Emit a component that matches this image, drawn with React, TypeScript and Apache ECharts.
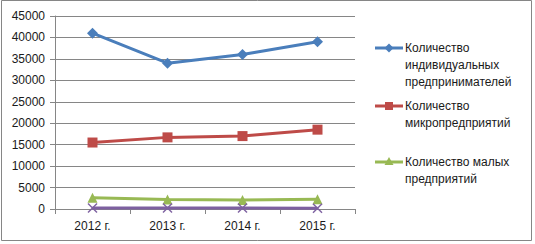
import React, { useEffect, useRef } from "react";
import * as echarts from "echarts";

const categories = ["2012 г.", "2013 г.", "2014 г.", "2015 г."];
const individualEntrepreneurs = [41000, 34000, 36000, 39000];
const microEnterprises = [15500, 16700, 17000, 18500];
const smallEnterprises = [2600, 2200, 2100, 2300];
const mediumEnterprises = [250, 230, 220, 200];
const yTicks = { min: 0, max: 45000, interval: 5000 };

const legendNames = [
  ["Количество", "индивидуальных", "предпринимателей"],
  ["Количество", "микропредприятий"],
  ["Количество малых", "предприятий"],
];

const BLUE = "#4A7EBB";
const RED = "#BE4B48";
const GREEN = "#98B954";
const PURPLE = "#7D60A0";
const FONT = "Liberation Sans";
const XSYM = "path://M0,1L1,0L5,4L9,0L10,1L6,5L10,9L9,10L5,6L1,10L0,9L4,5Z";

export default function App() {
  const ref = useRef<HTMLDivElement>(null);
  useEffect(() => {
    if (!ref.current) return;
    const chart = echarts.init(ref.current, undefined, { renderer: "svg" });

    const legendTop = [48, 106, 162];
    const legendColors = [BLUE, RED, GREEN];
    const legendSymbols = ["diamond", "rect", "triangle"];
    const graphics: any[] = [
      {
        type: "rect",
        shape: { x: 1.5, y: 0.5, width: 530, height: 240 },
        style: { fill: "none", stroke: "#868686", lineWidth: 1 },
        silent: true,
      },
    ];
    legendNames.forEach((lines, i) => {
      const y = legendTop[i];
      graphics.push({
        type: "line",
        shape: { x1: 375, y1: y, x2: 403, y2: y },
        style: { stroke: legendColors[i], lineWidth: 3 },
      });
      if (legendSymbols[i] === "diamond") {
        graphics.push({
          type: "polygon",
          shape: { points: [[389, y - 4.5], [393.5, y], [389, y + 4.5], [384.5, y]] },
          style: { fill: BLUE },
        });
      } else if (legendSymbols[i] === "rect") {
        graphics.push({
          type: "rect",
          shape: { x: 385, y: y - 4, width: 8, height: 8 },
          style: { fill: RED },
        });
      } else {
        graphics.push({
          type: "polygon",
          shape: { points: [[389, y - 5], [393.5, y + 3], [384.5, y + 3]] },
          style: { fill: GREEN },
        });
      }
      lines.forEach((t, j) => {
        graphics.push({
          type: "text",
          x: 405,
          y: y + j * 16.8,
          style: {
            text: t,
            fill: "#1a1a1a",
            font: `12px "${FONT}"`,
            verticalAlign: "middle",
            align: "left",
          },
        });
      });
    });

    chart.setOption({
      animation: false,
      backgroundColor: "#ffffff",
      grid: { left: 55, right: 180, top: 16, bottom: 35, containLabel: false },
      xAxis: {
        type: "category",
        data: categories,
        boundaryGap: true,
        axisLine: { lineStyle: { color: "#868686", width: 1 } },
        axisTick: { show: true, length: 5, lineStyle: { color: "#868686" } },
        axisLabel: { color: "#1a1a1a", fontFamily: FONT, fontSize: 12, margin: 11 },
      },
      yAxis: {
        type: "value",
        min: yTicks.min,
        max: yTicks.max,
        interval: yTicks.interval,
        axisLine: { show: true, lineStyle: { color: "#868686", width: 1 } },
        axisTick: { show: true, length: 5, lineStyle: { color: "#868686" } },
        axisLabel: {
          color: "#1a1a1a",
          fontFamily: FONT,
          fontSize: 12,
          margin: 10,
          formatter: (v: number) => String(v),
        },
        splitLine: { show: true, lineStyle: { color: "#868686", width: 1 } },
      },
      graphic: graphics,
      series: [
        {
          name: "Количество индивидуальных предпринимателей",
          type: "line",
          data: individualEntrepreneurs,
          symbol: "diamond",
          symbolSize: 11,
          lineStyle: { color: BLUE, width: 3 },
          itemStyle: { color: BLUE },
        },
        {
          name: "Количество микропредприятий",
          type: "line",
          data: microEnterprises,
          symbol: "rect",
          symbolSize: 10,
          lineStyle: { color: RED, width: 3 },
          itemStyle: { color: RED },
        },
        {
          name: "Количество малых предприятий",
          type: "line",
          data: smallEnterprises,
          symbol: "triangle",
          symbolSize: 10,
          lineStyle: { color: GREEN, width: 3 },
          itemStyle: { color: GREEN },
        },
        {
          name: "Количество средних предприятий",
          type: "line",
          data: mediumEnterprises,
          symbol: XSYM,
          symbolSize: 10,
          lineStyle: { color: PURPLE, width: 3 },
          itemStyle: { color: PURPLE },
        },
      ],
    });
    return () => chart.dispose();
  }, []);
  return (
    <div
      ref={ref}
      style={{ position: "fixed", left: 0, top: 0, width: 535, height: 244 }}
    />
  );
}
